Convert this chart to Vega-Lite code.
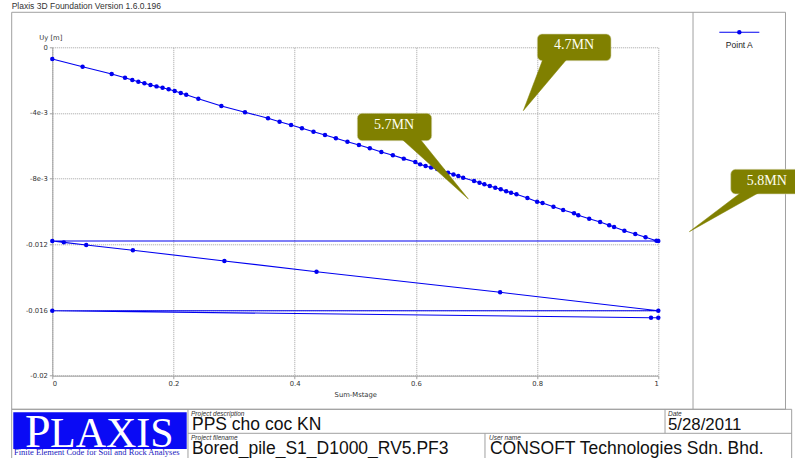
{
  "$schema": "https://vega.github.io/schema/vega-lite/v6.json",
  "autosize": {"type": "none"},
  "width": 606,
  "height": 328.4,
  "padding": {"left": 52.3, "top": 47.3, "right": 136.7, "bottom": 82.3},
  "background": "white",
  "config": {
    "view": {"stroke": null},
    "axis": {
      "labelFont": "DejaVu Sans", "labelFontSize": 6.8, "labelColor": "#333333",
      "titleFont": "DejaVu Sans", "titleFontSize": 6.8, "titleColor": "#333333", "titleFontWeight": "normal",
      "domainColor": "#a0a0a0", "tickColor": "#a0a0a0", "tickSize": 3, "labelPadding": 2,
      "gridColor": "#a0a0a0", "gridDash": [1, 1], "gridWidth": 1
    }
  },
  "datasets": {
    "series": [
      {"s": 0, "x": 0, "y": -0.00071}, {"s": 1, "x": 0.05, "y": -0.00118}, {"s": 2, "x": 0.098, "y": -0.00163},
      {"s": 3, "x": 0.12, "y": -0.00185}, {"s": 4, "x": 0.132, "y": -0.00199}, {"s": 5, "x": 0.142, "y": -0.0021},
      {"s": 6, "x": 0.152, "y": -0.00219}, {"s": 7, "x": 0.162, "y": -0.0023}, {"s": 8, "x": 0.172, "y": -0.00238},
      {"s": 9, "x": 0.182, "y": -0.00246}, {"s": 10, "x": 0.192, "y": -0.00256}, {"s": 11, "x": 0.202, "y": -0.00266},
      {"s": 12, "x": 0.212, "y": -0.00278}, {"s": 13, "x": 0.221, "y": -0.00289}, {"s": 14, "x": 0.241, "y": -0.00313},
      {"s": 15, "x": 0.279, "y": -0.00357}, {"s": 16, "x": 0.318, "y": -0.00395}, {"s": 17, "x": 0.356, "y": -0.00432},
      {"s": 18, "x": 0.375, "y": -0.00453}, {"s": 19, "x": 0.394, "y": -0.00473}, {"s": 20, "x": 0.412, "y": -0.00493},
      {"s": 21, "x": 0.431, "y": -0.00514}, {"s": 22, "x": 0.45, "y": -0.00534}, {"s": 23, "x": 0.468, "y": -0.00554},
      {"s": 24, "x": 0.487, "y": -0.00575}, {"s": 25, "x": 0.506, "y": -0.00595}, {"s": 26, "x": 0.524, "y": -0.00615},
      {"s": 27, "x": 0.543, "y": -0.00638}, {"s": 28, "x": 0.562, "y": -0.00658}, {"s": 29, "x": 0.58, "y": -0.00678},
      {"s": 30, "x": 0.599, "y": -0.00699}, {"s": 31, "x": 0.607, "y": -0.00713}, {"s": 32, "x": 0.616, "y": -0.00723},
      {"s": 33, "x": 0.625, "y": -0.00732}, {"s": 34, "x": 0.635, "y": -0.00741}, {"s": 35, "x": 0.644, "y": -0.00752},
      {"s": 36, "x": 0.653, "y": -0.00764}, {"s": 37, "x": 0.662, "y": -0.00775}, {"s": 38, "x": 0.67, "y": -0.00784},
      {"s": 39, "x": 0.678, "y": -0.00794}, {"s": 40, "x": 0.696, "y": -0.00814}, {"s": 41, "x": 0.705, "y": -0.00825},
      {"s": 42, "x": 0.713, "y": -0.00834}, {"s": 43, "x": 0.722, "y": -0.00845}, {"s": 44, "x": 0.731, "y": -0.00855},
      {"s": 45, "x": 0.74, "y": -0.00865}, {"s": 46, "x": 0.749, "y": -0.00876}, {"s": 47, "x": 0.757, "y": -0.00886},
      {"s": 48, "x": 0.766, "y": -0.00895}, {"s": 49, "x": 0.784, "y": -0.00918}, {"s": 50, "x": 0.8, "y": -0.0094},
      {"s": 51, "x": 0.809, "y": -0.00948}, {"s": 52, "x": 0.827, "y": -0.00971}, {"s": 53, "x": 0.843, "y": -0.00991},
      {"s": 54, "x": 0.861, "y": -0.01011}, {"s": 55, "x": 0.868, "y": -0.01023}, {"s": 56, "x": 0.886, "y": -0.01044},
      {"s": 57, "x": 0.904, "y": -0.01064}, {"s": 58, "x": 0.919, "y": -0.01084}, {"s": 59, "x": 0.927, "y": -0.01094},
      {"s": 60, "x": 0.944, "y": -0.01117}, {"s": 61, "x": 0.962, "y": -0.01137}, {"s": 62, "x": 0.979, "y": -0.01157},
      {"s": 63, "x": 0.997, "y": -0.01178}, {"s": 64, "x": 1.0, "y": -0.0118},
      {"s": 65, "x": 0, "y": -0.0118}, {"s": 66, "x": 0.019, "y": -0.01188}, {"s": 67, "x": 0.056, "y": -0.01204},
      {"s": 68, "x": 0.133, "y": -0.01236}, {"s": 69, "x": 0.284, "y": -0.01301}, {"s": 70, "x": 0.436, "y": -0.01367},
      {"s": 71, "x": 0.739, "y": -0.01492}, {"s": 72, "x": 1.0, "y": -0.01604},
      {"s": 73, "x": 0, "y": -0.01604}, {"s": 74, "x": 0.988, "y": -0.01647}, {"s": 75, "x": 1.0, "y": -0.01647}
    ],
    "frames": [
      {"x": -0.067, "x2": 1.2099, "y": 0.002132, "y2": -0.022047}
    ],
    "rules": [
      {"x": 1.0573, "x2": 1.0573, "y": 0.002132, "y2": -0.022047},
      {"x": -0.067, "x2": 1.2201, "y": -0.022047, "y2": -0.022047},
      {"x": -0.067, "x2": -0.067, "y": -0.022047, "y2": -0.0253},
      {"x": 1.2201, "x2": 1.2201, "y": -0.022047, "y2": -0.0253},
      {"x": 0.2239, "x2": 0.2239, "y": -0.022047, "y2": -0.0253},
      {"x": 0.2239, "x2": 1.2201, "y": -0.023508, "y2": -0.023508},
      {"x": 1.0111, "x2": 1.0111, "y": -0.022047, "y2": -0.023508},
      {"x": 0.714, "x2": 0.714, "y": -0.023508, "y2": -0.0253}
    ],
    "logo": [
      {"x": -0.0644, "x2": 0.2218, "y": -0.022229, "y2": -0.024464}
    ],
    "legend": [
      {"x": 1.1007, "x2": 1.1667, "y": 0.000914, "px": 1.1337, "ty": 0.000122, "label": "Point A"}
    ],
    "boxes": [
      {"id": "a", "x": 0.8003, "x2": 0.922, "y": 0.00081, "y2": -0.000816, "tx": 0.861, "ty": 0.00014, "label": "4.7MN"},
      {"id": "b", "x": 0.5033, "x2": 0.6261, "y": -0.004019, "y2": -0.005688, "tx": 0.5638, "ty": -0.00475, "label": "5.7MN"},
      {"id": "c", "x": 1.1195, "x2": 1.2338, "y": -0.00743, "y2": -0.008934, "tx": 1.1789, "ty": -0.008143, "label": "5.8MN"}
    ],
    "ptr": [
      {"id": "a", "o": 0, "x": 0.8097, "y": -0.000713}, {"id": "a", "o": 1, "x": 0.7772, "y": -0.003861}, {"id": "a", "o": 2, "x": 0.8493, "y": -0.000713},
      {"id": "b", "o": 0, "x": 0.5766, "y": -0.005585}, {"id": "b", "o": 1, "x": 0.6865, "y": -0.009239}, {"id": "b", "o": 2, "x": 0.6068, "y": -0.005585},
      {"id": "c", "o": 0, "x": 1.1376, "y": -0.008813}, {"id": "c", "o": 1, "x": 1.0512, "y": -0.01123}, {"id": "c", "o": 2, "x": 1.1678, "y": -0.008813}
    ],
    "small": [
      {"x": 0.2289, "y": -0.022454, "t": "Project description"},
      {"x": 0.2289, "y": -0.023916, "t": "Project filename"},
      {"x": 0.7206, "y": -0.023916, "t": "User name"},
      {"x": 1.016, "y": -0.022454, "t": "Date"}
    ],
    "big": [
      {"x": 0.2305, "y": -0.023277, "t": "PPS cho coc KN"},
      {"x": 0.2305, "y": -0.024769, "t": "Bored_pile_S1_D1000_RV5.PF3"},
      {"x": 0.7222, "y": -0.024769, "t": "CONSOFT Technologies Sdn. Bhd."}
    ],
    "date": [
      {"x": 1.016, "y": -0.023277, "t": "5/28/2011"}
    ],
    "title": [
      {"x": -0.067, "y": 0.002333, "t": "Plaxis 3D Foundation Version 1.6.0.196"}
    ],
    "logoP": [{"x": -0.045, "y": -0.024342, "t": "P"}],
    "logoL": [{"x": -0.0038, "y": -0.024342, "t": "LAXIS"}],
    "logoSub": [{"x": -0.0632, "y": -0.02483, "t": "Finite Element Code for Soil and Rock Analyses"}]
  },
  "encoding": {
    "x": {
      "field": "x", "type": "quantitative",
      "scale": {"domain": [0, 1], "nice": false, "zero": false},
      "axis": {
        "title": "Sum-Mstage", "values": [0, 0.2, 0.4, 0.6, 0.8, 1],
        "labelExpr": "datum.value == 0 ? '0' : datum.value == 1 ? '1' : format(datum.value, '.1f')",
        "titlePadding": 4
      }
    },
    "y": {
      "field": "y", "type": "quantitative",
      "scale": {"domain": [-0.02, 0], "nice": false, "zero": false},
      "axis": {
        "title": "Uy [m]", "values": [0, -0.004, -0.008, -0.012, -0.016, -0.02],
        "labelExpr": "datum.value > -0.001 ? '0' : datum.value > -0.005 ? '-4e-3' : datum.value > -0.009 ? '-8e-3' : datum.value > -0.013 ? '-0.012' : datum.value > -0.017 ? '-0.016' : '-0.02'",
        "titleAngle": 0, "titleAlign": "center", "titleBaseline": "alphabetic", "titleX": -2, "titleY": -8
      }
    }
  },
  "layer": [
    {
      "data": {"name": "frames"},
      "mark": {"type": "rect", "fillOpacity": 0, "stroke": "#a0a0a0", "strokeWidth": 1},
      "encoding": {"x2": {"field": "x2"}, "y2": {"field": "y2"}}
    },
    {
      "data": {"name": "rules"},
      "mark": {"type": "rule", "color": "#a0a0a0", "strokeWidth": 1},
      "encoding": {"x2": {"field": "x2"}, "y2": {"field": "y2"}}
    },
    {
      "data": {"name": "logo"},
      "mark": {"type": "rect", "fill": "#0a0af5", "stroke": null},
      "encoding": {"x2": {"field": "x2"}, "y2": {"field": "y2"}}
    },
    {
      "data": {"name": "series"},
      "mark": {"type": "line", "color": "#0000f0", "strokeWidth": 1.1},
      "encoding": {"order": {"field": "s", "type": "quantitative"}}
    },
    {
      "data": {"name": "series"},
      "mark": {"type": "point", "filled": true, "color": "#0000f0", "size": 20, "opacity": 1}
    },
    {
      "data": {"name": "legend"},
      "mark": {"type": "rule", "color": "#0000f0", "strokeWidth": 1.1},
      "encoding": {"x2": {"field": "x2"}}
    },
    {
      "data": {"name": "legend"},
      "mark": {"type": "point", "filled": true, "color": "#0000f0", "size": 20, "opacity": 1},
      "encoding": {"x": {"field": "px", "type": "quantitative"}}
    },
    {
      "data": {"name": "legend"},
      "mark": {"type": "text", "font": "Liberation Sans", "fontSize": 8.5, "color": "#222222", "align": "center", "baseline": "middle"},
      "encoding": {"x": {"field": "px", "type": "quantitative"}, "y": {"field": "ty", "type": "quantitative"}, "text": {"field": "label"}}
    },
    {
      "data": {"name": "boxes"},
      "mark": {"type": "rect", "fill": "#808000", "stroke": "#d8d8b8", "strokeWidth": 0.6, "cornerRadius": 5},
      "encoding": {"x2": {"field": "x2"}, "y2": {"field": "y2"}}
    },
    {
      "data": {"name": "ptr"},
      "mark": {"type": "line", "fill": "#808000", "stroke": "#808000", "strokeWidth": 0.5, "interpolate": "linear-closed"},
      "encoding": {"detail": {"field": "id"}, "order": {"field": "o", "type": "quantitative"}}
    },
    {
      "data": {"name": "boxes"},
      "mark": {"type": "text", "font": "Liberation Serif", "fontSize": 14, "color": "#fffff0", "align": "center", "baseline": "middle"},
      "encoding": {"x": {"field": "tx", "type": "quantitative"}, "y": {"field": "ty", "type": "quantitative"}, "text": {"field": "label"}}
    },
    {
      "data": {"name": "small"},
      "mark": {"type": "text", "font": "Liberation Sans", "fontStyle": "italic", "fontSize": 6.5, "color": "#333333", "align": "left", "baseline": "alphabetic"},
      "encoding": {"text": {"field": "t"}}
    },
    {
      "data": {"name": "big"},
      "mark": {"type": "text", "font": "Liberation Sans", "fontSize": 17.5, "color": "#111111", "align": "left", "baseline": "alphabetic"},
      "encoding": {"text": {"field": "t"}}
    },
    {
      "data": {"name": "date"},
      "mark": {"type": "text", "font": "Liberation Sans", "fontSize": 16.8, "color": "#111111", "align": "left", "baseline": "alphabetic"},
      "encoding": {"text": {"field": "t"}}
    },
    {
      "data": {"name": "title"},
      "mark": {"type": "text", "font": "Liberation Sans", "fontSize": 8.5, "color": "#333333", "align": "left", "baseline": "alphabetic"},
      "encoding": {"text": {"field": "t"}}
    },
    {
      "data": {"name": "logoP"},
      "mark": {"type": "text", "font": "Liberation Serif", "fontSize": 46, "color": "white", "align": "left", "baseline": "alphabetic"},
      "encoding": {"text": {"field": "t"}}
    },
    {
      "data": {"name": "logoL"},
      "mark": {"type": "text", "font": "Liberation Serif", "fontSize": 42, "color": "white", "align": "left", "baseline": "alphabetic"},
      "encoding": {"text": {"field": "t"}}
    },
    {
      "data": {"name": "logoSub"},
      "mark": {"type": "text", "font": "Liberation Serif", "fontSize": 8.5, "color": "#2020c0", "align": "left", "baseline": "alphabetic"},
      "encoding": {"text": {"field": "t"}}
    }
  ]
}
